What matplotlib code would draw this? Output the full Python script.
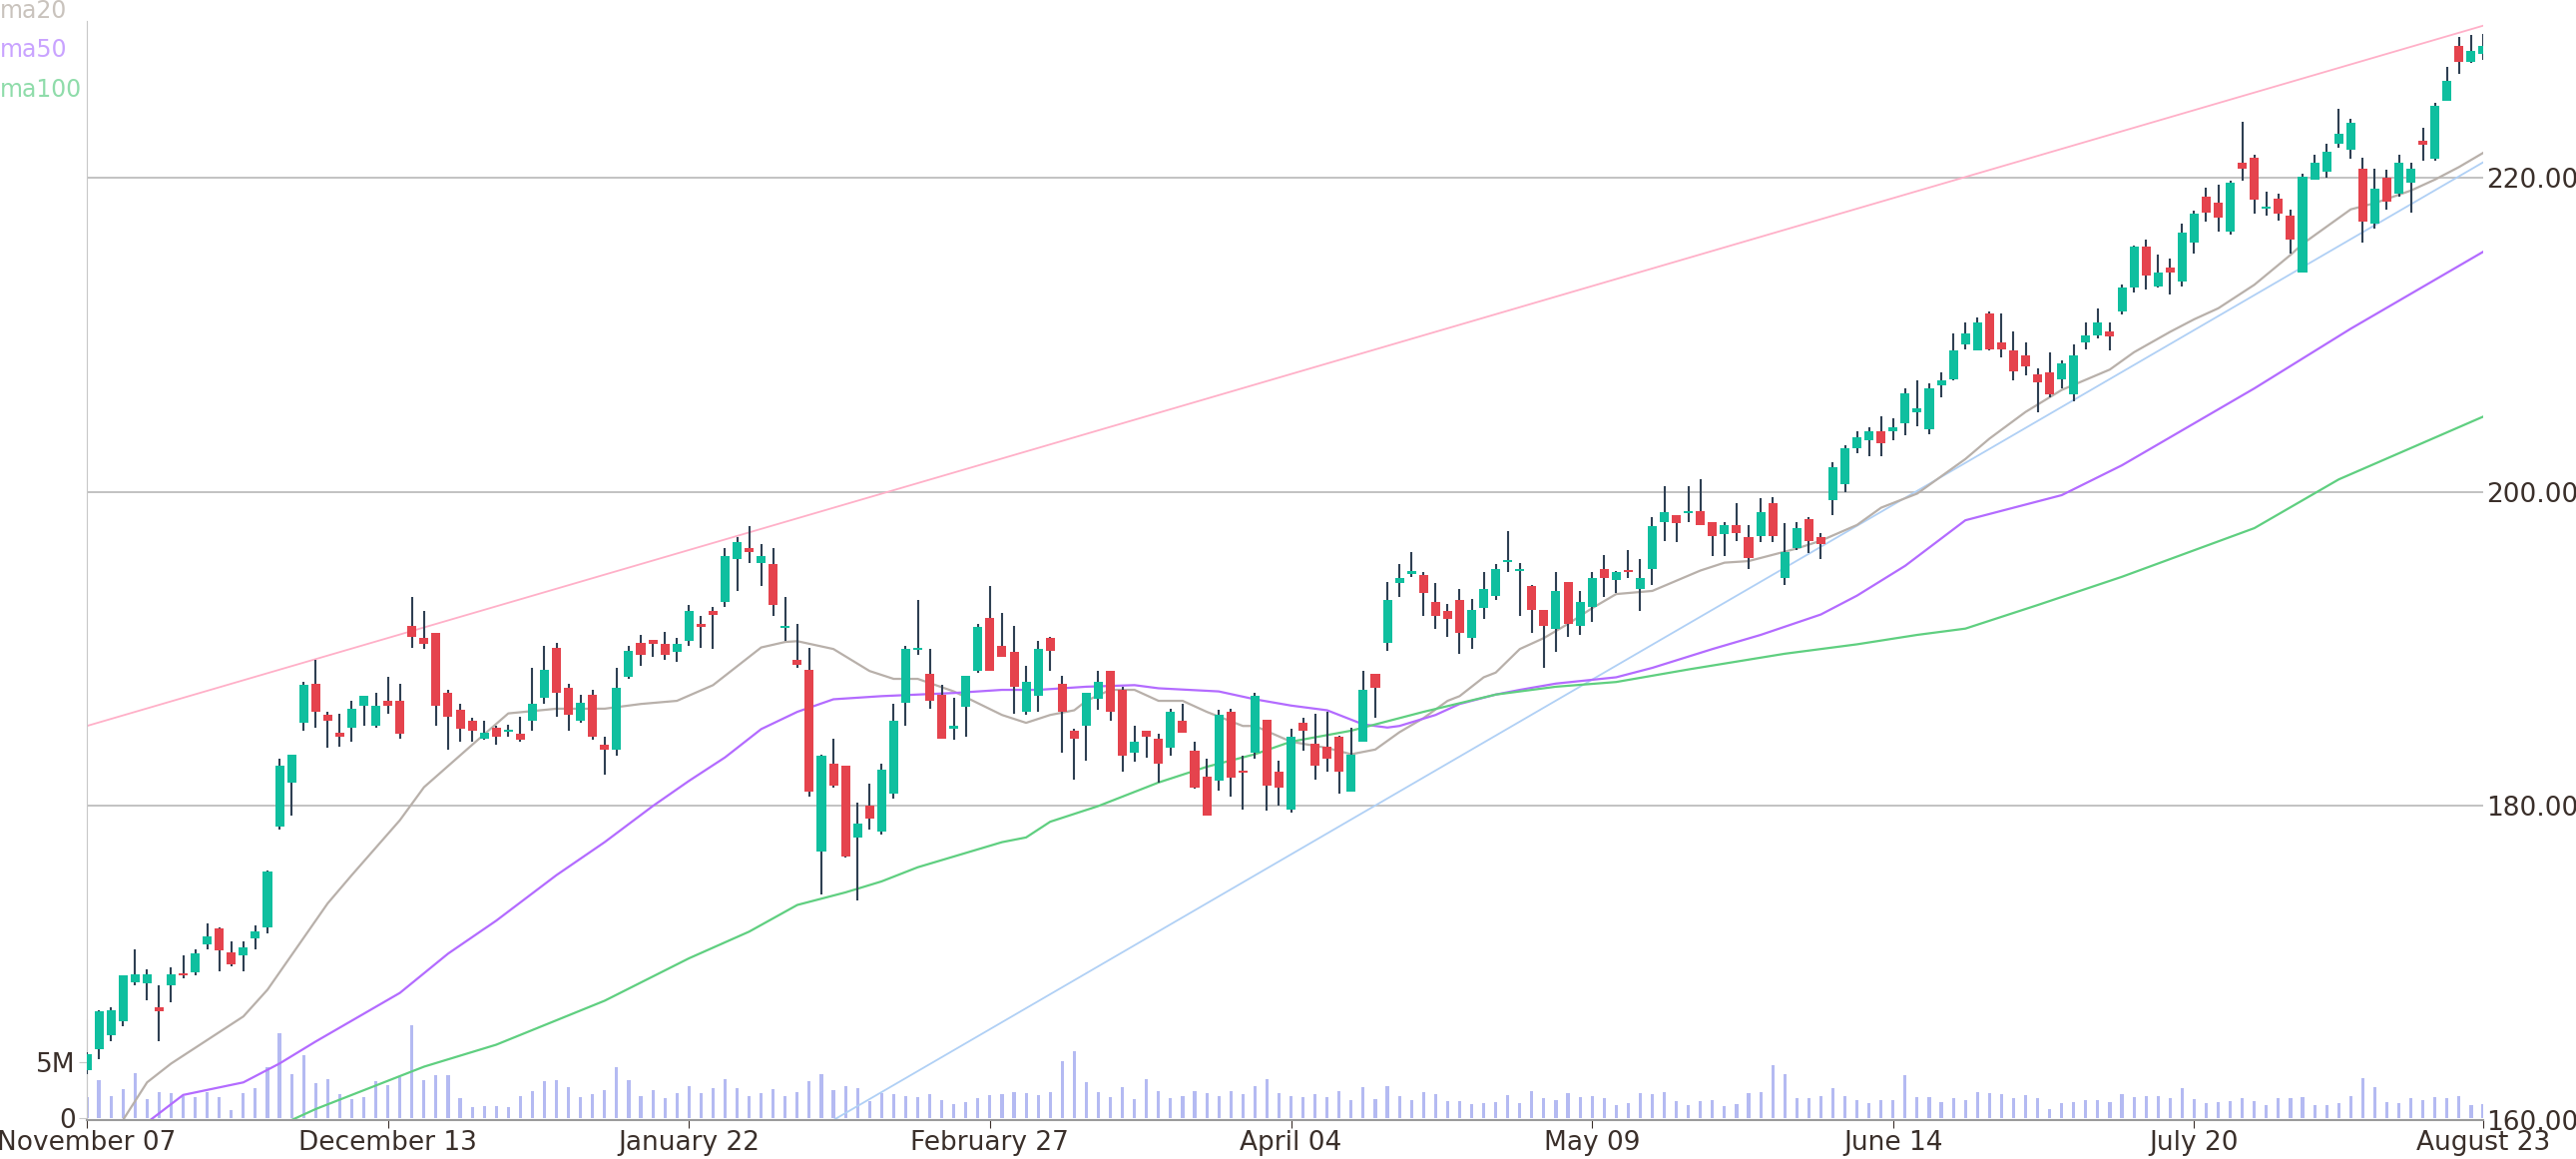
import numpy as np
import matplotlib
matplotlib.use("Agg")
import matplotlib.pyplot as plt

# daily candles, index 0..199
opens = [163.2, 164.5, 165.4, 166.3, 168.8, 168.7, 167.2, 168.6, 169.3, 169.4,
         171.2, 172.2, 170.7, 170.5, 171.6, 172.3, 178.7, 181.5, 185.3, 187.8,
         185.8, 184.7, 185.0, 186.4, 185.1, 186.7, 186.7, 191.5, 190.7, 191.0,
         187.2, 186.1, 185.4, 184.3, 185.0, 184.75, 184.6, 185.4, 186.9, 190.1,
         187.5, 185.4, 187.1, 183.9, 183.6, 188.2, 190.4, 190.6, 190.3, 189.8,
         190.5, 191.6, 192.4, 193.0, 195.7, 196.4, 195.5, 195.4, 191.35, 189.3,
         188.7, 177.1, 182.7, 182.6, 178.0, 180.0, 178.4, 180.8, 186.6, 189.95,
         188.4, 187.1, 184.9, 186.3, 188.6, 192.0, 190.2, 189.8, 186.0, 187.0,
         190.7, 187.8, 184.8, 185.1, 186.8, 188.6, 187.4, 183.4, 184.8, 184.3,
         183.7, 185.4, 183.5, 181.9, 181.6, 186.0, 182.25, 183.4, 185.5, 182.2,
         179.8, 185.3, 184.0, 183.8, 184.4, 180.9, 184.1, 188.4, 190.4, 194.2,
         194.8, 194.7, 193.0, 192.4, 193.1, 190.7, 192.6, 193.4, 195.55, 194.95,
         194.0, 192.5, 191.3, 194.3, 191.5, 192.7, 195.1, 194.4, 195.0, 193.8,
         195.1, 198.1, 198.5, 198.65, 198.8, 198.1, 197.3, 197.9, 197.1, 197.2,
         199.3, 194.5, 196.4, 198.3, 197.1, 199.5, 200.5, 202.8, 203.3, 203.9,
         203.9, 204.4, 205.1, 204.0, 206.8, 207.2, 209.4, 209.0, 211.4, 209.5,
         209.0, 208.7, 207.5, 207.6, 207.2, 206.2, 209.5, 210.0, 210.2, 211.5,
         213.0, 215.6, 213.1, 214.3, 213.4, 215.9, 218.8, 218.4, 216.6, 221.0,
         221.3, 218.05, 218.7, 217.6, 214.0, 219.9, 220.4, 222.2, 221.8, 220.6,
         217.1, 220.0, 219.0, 219.7, 222.4, 221.2, 224.9, 228.4, 227.4, 227.9]
highs = [164.3, 167.0, 167.2, 169.2, 170.9, 169.6, 168.6, 169.7, 170.5, 170.9,
         172.5, 172.3, 171.4, 171.4, 172.4, 175.9, 183.0, 183.3, 187.9, 189.3,
         186.0, 185.9, 186.7, 187.0, 187.2, 188.2, 187.8, 193.3, 192.4, 191.0,
         187.4, 186.5, 185.6, 185.4, 185.1, 185.2, 185.7, 188.8, 190.2, 190.4,
         187.8, 187.1, 187.4, 184.4, 188.8, 190.2, 190.9, 190.6, 191.1, 190.7,
         192.8, 192.1, 192.7, 196.4, 197.1, 197.8, 196.7, 196.4, 193.3, 191.6,
         190.1, 183.3, 184.3, 182.6, 180.2, 181.4, 182.7, 186.5, 190.2, 193.1,
         190.0, 187.7, 186.9, 188.3, 191.6, 194.0, 192.3, 191.5, 188.9, 190.5,
         190.8, 188.3, 184.9, 187.2, 188.6, 188.6, 187.6, 185.1, 184.8, 184.6,
         186.2, 186.5, 184.1, 183.0, 186.1, 186.2, 183.2, 187.2, 185.5, 182.9,
         184.9, 185.6, 185.9, 186.0, 184.5, 185.0, 188.6, 188.4, 194.3, 195.4,
         196.2, 194.9, 194.2, 192.9, 193.8, 193.2, 194.9, 195.4, 197.5, 195.5,
         194.1, 192.5, 194.9, 194.3, 193.7, 194.9, 196.0, 195.0, 196.3, 195.7,
         198.4, 200.4, 198.5, 200.4, 200.8, 198.1, 198.1, 199.3, 197.9, 199.6,
         199.7, 198.0, 198.1, 198.4, 197.4, 201.9, 203.0, 203.9, 204.1, 204.8,
         204.7, 206.6, 207.1, 206.9, 207.6, 210.1, 210.8, 211.1, 211.5, 211.4,
         210.2, 209.5, 207.9, 208.9, 208.4, 209.4, 210.8, 211.7, 210.8, 213.2,
         215.7, 216.1, 215.1, 214.9, 217.1, 217.9, 219.4, 219.6, 219.8, 223.6,
         221.5, 219.1, 219.0, 218.0, 220.3, 221.5, 222.2, 224.4, 223.8, 221.3,
         220.6, 220.5, 221.5, 221.0, 223.2, 224.8, 227.1, 229.0, 229.1, 229.2]
lows = [162.9, 163.9, 165.0, 166.0, 168.6, 167.6, 165.0, 167.5, 169.0, 169.2,
        170.9, 169.5, 169.8, 169.5, 170.9, 171.9, 178.5, 179.4, 184.8, 185.0,
        183.7, 183.8, 184.1, 185.1, 185.0, 185.9, 184.3, 190.1, 190.0, 185.1,
        183.6, 184.1, 184.1, 184.2, 183.9, 184.4, 184.1, 184.8, 186.5, 185.7,
        184.8, 185.3, 184.2, 182.0, 183.2, 188.1, 188.9, 189.5, 189.3, 189.2,
        190.2, 190.1, 190.0, 192.7, 193.7, 195.5, 194.0, 192.1, 190.5, 188.8,
        180.6, 174.4, 181.2, 176.7, 174.0, 178.5, 178.2, 180.5, 185.1, 189.6,
        186.2, 184.3, 184.2, 184.4, 188.5, 188.6, 189.5, 185.9, 185.8, 186.0,
        188.6, 183.4, 181.7, 182.9, 186.1, 185.4, 182.2, 182.8, 183.1, 181.5,
        183.2, 184.7, 181.1, 179.4, 181.0, 180.6, 179.8, 183.0, 179.7, 180.0,
        179.6, 183.5, 181.7, 182.2, 180.8, 180.9, 184.1, 185.6, 189.9, 193.3,
        194.6, 192.1, 191.3, 190.8, 189.7, 190.0, 191.9, 193.1, 194.9, 192.1,
        191.0, 188.8, 189.8, 190.8, 190.9, 191.7, 193.3, 193.6, 194.5, 192.4,
        194.1, 196.9, 196.8, 198.1, 197.9, 195.9, 195.9, 196.9, 195.1, 196.8,
        196.8, 194.1, 196.3, 196.1, 195.7, 198.5, 200.0, 202.5, 202.3, 202.3,
        203.3, 203.6, 204.2, 203.7, 206.0, 207.1, 209.1, 209.0, 209.0, 208.6,
        207.1, 207.4, 205.1, 206.0, 206.6, 205.8, 209.1, 209.8, 209.0, 211.3,
        212.7, 212.9, 213.0, 212.6, 213.1, 215.2, 217.2, 216.6, 216.4, 219.8,
        217.7, 217.6, 217.3, 215.2, 214.0, 219.9, 220.0, 221.9, 221.2, 215.9,
        216.8, 218.0, 218.8, 217.8, 221.1, 221.1, 224.9, 226.6, 227.3, 227.5]
closes = [164.2, 166.9, 167.0, 169.2, 169.3, 169.3, 166.9, 169.3, 169.25, 170.6,
          171.7, 170.8, 169.9, 171.0, 172.0, 175.8, 182.6, 183.3, 187.7, 186.0,
          185.4, 184.4, 186.2, 187.0, 186.4, 186.4, 184.6, 190.8, 190.3, 186.4,
          185.7, 184.9, 184.8, 184.7, 184.4, 184.85, 184.2, 186.5, 188.7, 187.2,
          185.8, 186.6, 184.4, 183.6, 187.5, 189.9, 189.6, 190.3, 189.6, 190.3,
          192.4, 191.4, 192.2, 195.9, 196.8, 196.2, 195.9, 192.8, 191.45, 189.0,
          180.9, 183.2, 181.3, 176.8, 178.9, 179.2, 182.3, 185.4, 190.0, 190.05,
          186.7, 184.3, 185.1, 188.3, 191.4, 188.6, 189.5, 187.6, 187.9, 190.0,
          189.9, 186.0, 184.3, 187.2, 187.9, 186.0, 183.2, 184.1, 184.4, 182.7,
          186.0, 184.7, 181.2, 179.4, 185.8, 181.8, 182.15, 187.0, 181.3, 181.2,
          184.4, 184.8, 182.6, 183.0, 182.2, 183.3, 187.4, 187.5, 193.1, 194.5,
          195.0, 193.6, 192.1, 191.9, 191.0, 192.5, 193.8, 195.1, 195.65, 195.05,
          192.5, 191.5, 193.7, 191.6, 193.0, 194.5, 194.5, 194.9, 194.9, 194.5,
          197.8, 198.7, 198.0, 198.75, 197.9, 197.2, 197.9, 197.4, 195.8, 198.7,
          197.2, 196.2, 197.7, 196.9, 196.7, 201.6, 202.8, 203.5, 203.9, 203.1,
          204.1, 206.3, 205.3, 206.6, 207.1, 209.0, 210.1, 210.8, 209.1, 209.1,
          207.7, 208.0, 207.0, 206.2, 208.2, 208.7, 210.0, 210.8, 209.9, 213.0,
          215.6, 213.8, 214.0, 214.0, 216.5, 217.7, 217.8, 217.5, 219.7, 220.6,
          218.6, 218.15, 217.7, 216.1, 220.1, 221.0, 221.7, 222.8, 223.5, 217.2,
          219.3, 218.5, 221.0, 220.6, 222.1, 224.6, 226.2, 227.4, 228.1, 228.4]
# volume in millions
volumes = [1.85, 3.4, 2.0, 2.6, 4.0, 1.7, 2.3, 2.2, 2.0, 1.85,
           2.3, 1.85, 0.7, 2.2, 2.65, 4.55, 7.6, 3.9, 5.65, 3.1,
           3.5, 2.1, 1.7, 1.85, 3.3, 2.95, 3.65, 8.3, 3.4, 3.85,
           3.8, 1.8, 1.0, 1.05, 1.1, 0.95, 1.95, 2.4, 3.3, 3.4,
           2.75, 1.85, 2.15, 2.5, 4.55, 3.4, 1.95, 2.5, 1.8, 2.2,
           2.9, 2.2, 2.7, 3.5, 2.65, 1.95, 2.2, 2.6, 2.0, 2.3,
           3.3, 3.95, 2.5, 2.9, 2.7, 1.5, 2.2, 2.1, 1.95, 1.85,
           2.1, 1.65, 1.25, 1.45, 1.75, 2.05, 2.1, 2.35, 2.2, 2.05,
           2.35, 5.05, 5.95, 3.2, 2.3, 1.85, 2.75, 1.7, 3.5, 2.4,
           1.75, 1.95, 2.4, 2.2, 1.95, 2.4, 2.1, 2.9, 3.5, 2.2,
           2.0, 1.85, 2.15, 1.85, 2.4, 1.6, 2.75, 1.7, 2.9, 2.0,
           1.6, 2.3, 2.15, 1.5, 1.5, 1.25, 1.35, 1.45, 2.05, 1.35,
           2.4, 1.75, 1.6, 2.25, 1.85, 1.95, 1.8, 1.2, 1.35, 2.2,
           2.1, 2.3, 1.5, 1.15, 1.5, 1.6, 1.1, 1.25, 2.2, 2.3,
           4.7, 3.95, 1.8, 1.8, 1.95, 2.65, 1.95, 1.6, 1.3, 1.6,
           1.6, 3.8, 1.9, 1.85, 1.45, 1.75, 1.65, 2.3, 2.2, 2.1,
           1.75, 2.05, 1.8, 0.8, 1.35, 1.45, 1.65, 1.6, 1.4, 2.15,
           1.9, 2.0, 1.95, 1.8, 2.7, 1.7, 1.35, 1.4, 1.5, 1.75,
           1.5, 1.2, 1.8, 1.8, 1.85, 1.15, 1.2, 1.35, 1.95, 3.55,
           2.75, 1.45, 1.35, 1.8, 1.6, 1.9, 1.75, 1.95, 1.2, 1.25]

# moving averages (index, value)
ma20_idx = [1, 5, 7, 13, 15, 20, 22, 26, 28, 32, 35, 39, 43, 46, 49, 52, 56, 58, 59, 62,
            65, 67, 69, 72, 76, 78, 80, 82, 83, 85, 87, 89, 91, 93, 96, 97, 100, 103, 105, 107,
            109, 111, 113, 114, 116, 117, 119, 121, 123, 125, 127, 130, 134, 136, 138, 142, 144, 147, 149, 152,
            156, 158, 161, 164, 168, 170, 173, 175, 177, 180, 183, 184, 188, 190, 193, 195, 197, 199]
ma20_val = [157.6, 162.4, 163.6, 166.6, 168.3, 173.8, 175.6, 179.1, 181.2, 183.9, 185.9, 186.2, 186.2, 186.5, 186.7, 187.7, 190.1, 190.45, 190.5, 190.0,
            188.6, 188.1, 188.1, 187.3, 185.8, 185.3, 185.8, 186.1, 186.7, 187.4, 187.4, 186.7, 186.7, 186.0, 185.1, 185.1, 184.1, 183.7, 183.3, 183.6,
            184.7, 185.6, 186.7, 187.0, 188.2, 188.5, 190.0, 190.7, 191.6, 192.6, 193.5, 193.7, 195.0, 195.5, 195.6, 196.4, 196.9, 197.9, 199.0, 199.9,
            202.1, 203.4, 205.1, 206.5, 207.8, 208.9, 210.2, 211.0, 211.7, 213.2, 215.1, 215.8, 218.0, 218.4, 219.2, 219.9, 220.7, 221.6]
ma50_idx = [1, 8, 13, 16, 19, 26, 30, 34, 39, 43, 47, 50, 53, 56, 59, 62, 66, 72, 76, 79,
            83, 87, 89, 94, 97, 100, 103, 106, 108, 109, 112, 114, 117, 119, 122, 127, 130, 135, 139, 144,
            147, 151, 156, 164, 169, 180, 188, 199]
ma50_val = [157.5, 161.6, 162.4, 163.6, 165.0, 168.1, 170.6, 172.7, 175.6, 177.7, 180.0, 181.6, 183.1, 184.9, 186.0, 186.8, 187.0, 187.2, 187.4, 187.4,
            187.6, 187.7, 187.5, 187.3, 186.8, 186.4, 186.1, 185.2, 185.0, 185.1, 185.8, 186.5, 187.1, 187.4, 187.8, 188.2, 188.8, 190.0, 190.9, 192.2,
            193.4, 195.3, 198.2, 199.8, 201.7, 206.6, 210.4, 215.3]
ma100_idx = [3, 15, 19, 28, 34, 43, 50, 55, 59, 63, 66, 69, 76, 78, 80, 84, 89, 93, 97, 100,
             105, 111, 117, 122, 127, 133, 141, 147, 152, 156, 162, 169, 180, 187, 199]
ma100_val = [157.5, 159.3, 160.7, 163.4, 164.8, 167.6, 170.3, 172.0, 173.7, 174.5, 175.2, 176.1, 177.7, 178.0, 179.0, 180.0, 181.5, 182.5, 183.3, 184.1,
             184.8, 186.0, 187.1, 187.6, 187.9, 188.7, 189.7, 190.3, 190.9, 191.3, 192.8, 194.6, 197.7, 200.8, 204.8]

# trend lines (index, price) end points
upper_trend = ([0, 199], [185.1, 229.7])
lower_trend = ([62, 199], [160.0, 221.0])

tick_pos = [0, 25, 50, 75, 100, 125, 150, 175, 199]
tick_labels = ["November 07", "December 13", "January 22", "February 27", "April 04",
               "May 09", "June 14", "July 20", "August 23"]

UP = "#0fbf9f"
DOWN = "#e5434d"
WICK = "#2e3f52"
TXT = "#3a2f2a"

fig = plt.figure(figsize=(25.81, 11.61), dpi=100)
ax = fig.add_axes([87 / 2581, 39 / 1161, 2401 / 2581, 1101 / 1161])
vax = fig.add_axes([87 / 2581, 41 / 1161, 2401 / 2581, 99 / 1161], sharex=ax)
vax.patch.set_alpha(0)

x = np.arange(len(opens))
o, h, l, c = map(np.array, (opens, highs, lows, closes))
up = c >= o

# volume
vax.bar(x, np.array(volumes) * 1e6, width=0.26, color="#b4baf2", zorder=1)
vax.set_ylim(0, 8.84e6)
vax.set_yticks([0, 5e6])
vax.set_yticklabels(["0", "5M"])
for s in ["top", "right", "bottom"]:
    vax.spines[s].set_visible(False)
vax.spines["left"].set_color("#c8c8c8")
vax.tick_params(axis="y", labelsize=19, colors="#c8c8c8", labelcolor=TXT, length=6, pad=2)
vax.tick_params(axis="x", bottom=False, labelbottom=False)

# price
for yv in [180, 200, 220]:
    ax.axhline(yv, color="#bdbdbd", lw=1.3, zorder=0)
ax.plot(*upper_trend, color="#ffb0c8", lw=1.3, zorder=1)
ax.plot(*lower_trend, color="#b0d0f5", lw=1.3, zorder=1)
ax.plot(ma20_idx, ma20_val, color="#b8b0aa", lw=1.6, zorder=2)
ax.plot(ma50_idx, ma50_val, color="#b36bff", lw=1.6, zorder=2)
ax.plot(ma100_idx, ma100_val, color="#5fcf80", lw=1.6, zorder=2)

ax.vlines(x, l, h, color=WICK, lw=1.5, zorder=3)
body_lo = np.minimum(o, c)
body_h = np.maximum(np.abs(c - o), 0.12)
ax.bar(x, body_h, bottom=body_lo, width=0.75, color=np.where(up, UP, DOWN), zorder=4)

ax.set_xlim(0, 199)
ax.set_ylim(160, 230)
ax.set_xticks(tick_pos)
ax.set_xticklabels(tick_labels)
ax.set_yticks([160, 180, 200, 220])
ax.set_yticklabels(["160.00", "180.00", "200.00", "220.00"])
ax.yaxis.tick_right()
ax.tick_params(axis="y", length=0, labelsize=19, labelcolor=TXT, pad=2)
ax.tick_params(axis="x", length=6, color=TXT, labelsize=19, labelcolor=TXT, pad=1)
for s in ["top", "right"]:
    ax.spines[s].set_visible(False)
ax.spines["left"].set_color("#c8c8c8")
ax.spines["bottom"].set_color("#9a9a9a")
ax.spines["bottom"].set_linewidth(1.5)
ax.patch.set_alpha(0)
ax.set_zorder(vax.get_zorder() + 1)

fig.text(0.0, 1 - 11 / 1161, "ma20", color="#c9c3bd", fontsize=17, va="center")
fig.text(0.0, 1 - 50 / 1161, "ma50", color="#c9a3ff", fontsize=17, va="center")
fig.text(0.0, 1 - 90 / 1161, "ma100", color="#8fdcaa", fontsize=17, va="center")

fig.savefig("out.png", dpi=100)
